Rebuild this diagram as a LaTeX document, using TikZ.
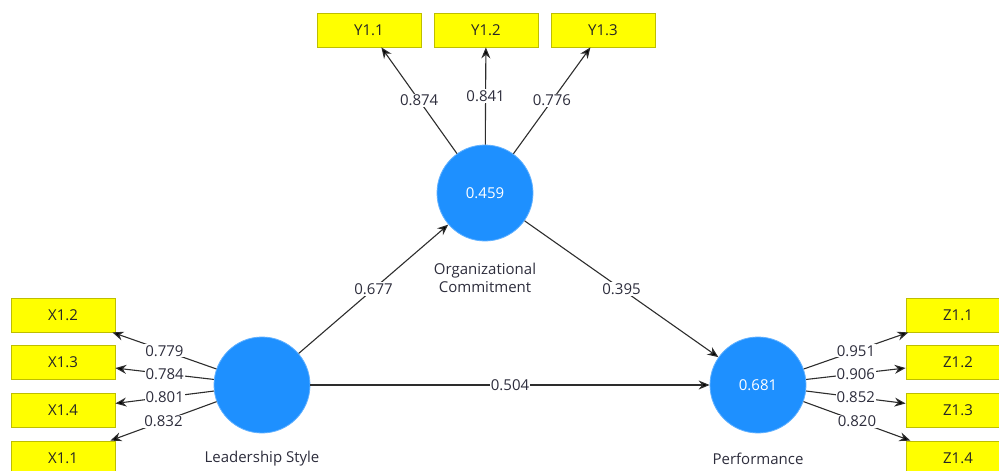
\documentclass[tikz,border=0pt]{standalone}
\usepackage{fontspec}
\setmainfont{Open Sans}
\usepackage{xcolor}
\usepackage{tikz}
\usetikzlibrary{arrows.meta, positioning}

\definecolor{lvblue}{RGB}{30,144,255}
\definecolor{indyellow}{RGB}{255,255,0}
\definecolor{indborder}{RGB}{190,190,0}
\definecolor{pathgray}{RGB}{45,45,45}
\definecolor{labgray}{RGB}{45,45,60}

\begin{document}
\begin{tikzpicture}[x=1pt, y=-1pt, >={Stealth[length=11pt,width=9pt]},
                    line width=1.1pt, font=\fontsize{15}{17}\selectfont]
\tikzset{latent/.style={shape=circle, fill=lvblue, draw=lvblue!70!white,
                    line width=0.8pt, minimum size=96pt, inner sep=0pt,
                    text=white},
         indicator/.style={shape=rectangle, fill=indyellow, draw=indborder,
                    line width=0.8pt, minimum width=104pt, minimum height=34pt,
                    inner sep=0pt, text=black!85},
         lvname/.style={text=labgray, align=center, inner sep=0pt},
         weight/.style={fill=white, inner sep=1pt, text=labgray},
         load/.style={->, draw=pathgray}}
  \useasboundingbox (0,0) rectangle (999,471);
  % latent variables
  \node[latent] (LS) at (262,385) {};
  \node[latent] (OC) at (485,193) {0.459};
  \node[latent] (PF) at (758,385) {0.681};
  \node[lvname] (LSname) at (262,459) {Leadership Style};
  \node[lvname] (OCname) at (485,278) {Organizational\\[1pt]Commitment};
  \node[lvname] (PFname) at (758,459) {Performance};
  % indicators
  \node[indicator] (Y11) at (369,30) {Y1.1};
  \node[indicator] (Y12) at (486,30) {Y1.2};
  \node[indicator] (Y13) at (603,30) {Y1.3};
  \node[indicator] (X12) at (63,315) {X1.2};
  \node[indicator] (X13) at (63,362) {X1.3};
  \node[indicator] (X14) at (63,410) {X1.4};
  \node[indicator] (X11) at (63,458) {X1.1};
  \node[indicator] (Z11) at (958,315) {Z1.1};
  \node[indicator] (Z12) at (958,362) {Z1.2};
  \node[indicator] (Z13) at (958,410) {Z1.3};
  \node[indicator] (Z14) at (958,458) {Z1.4};
  % outer loadings
  \path[load] (OC) edge node[weight] {0.874} (Y11);
  \path[load] (OC) edge node[weight] {0.841} (Y12);
  \path[load] (OC) edge node[weight] {0.776} (Y13);
  \path[load] (LS) edge node[weight] {0.779} (X12);
  \path[load] (LS) edge node[weight] {0.784} (X13);
  \path[load] (LS) edge node[weight] {0.801} (X14);
  \path[load] (LS) edge node[weight] {0.832} (X11);
  \path[load] (PF) edge node[weight] {0.951} (Z11);
  \path[load] (PF) edge node[weight] {0.906} (Z12);
  \path[load] (PF) edge node[weight] {0.852} (Z13);
  \path[load] (PF) edge node[weight] {0.820} (Z14);
  % path coefficients
  \path[load] (LS) edge node[weight] {0.677} (OC);
  \path[load] (OC) edge node[weight] {0.395} (PF);
  \path[load] (LS) edge node[weight] {0.504} (PF);
\end{tikzpicture}
\end{document}
